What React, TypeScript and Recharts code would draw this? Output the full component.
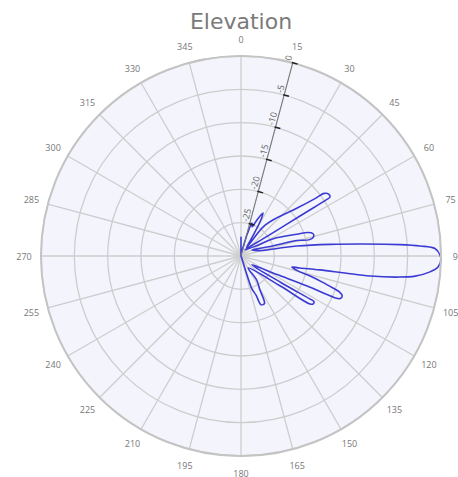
import { RadarChart, Radar, PolarGrid, PolarAngleAxis, PolarRadiusAxis } from 'recharts';

// compass bearings for the angle axis (clockwise from top)
const angleTicks = [0, 15, 30, 45, 60, 75, 90, 105, 120, 135, 150, 165, 180, 195, 210, 225, 240, 255, 270, 285, 300, 315, 330, 345];
// gain rings, dB
const gainTicks = [-30, -25, -20, -15, -10, -5, 0];

// elevation pattern, in drawing order: bearing (deg), gain (dB)
const traceAngles = [
  0, 5, 12, 16, 18.4, 21, 24, 27.1, 29, 31, 34,
  37.3, 43.3, 49.4, 52.3, 53.0, 54.8, 56.5, 56.6, 56.1, 55.1, 52.7, 33.7,
  57.1, 61.8, 68.7, 70.7, 72.6, 75, 76.6, 74.5, 73.4, 71.9, 61.4,
  76, 78.4, 79.9, 82.6, 84.4, 85.9, 86.8, 87.8, 89.7, 91.1, 93.2, 94.8, 96.6, 97.7, 98.8, 99.3, 100, 101.5, 102.2,
  104.7, 106.2, 107.8, 109.2, 110.0, 111.4, 113.2, 114.0, 114.4, 117.2, 129,
  123.6, 121.9, 121.9, 123.5, 124.8, 127.3, 149.3,
  146.8, 150.8, 152.4, 153.7, 157.6, 159, 161.7, 162.5, 161.6,
  175, 180, 270, 355,
];
const traceGain = [
  -27.2, -29.5, -29, -26.5, -24.8, -25.3, -24, -22.75, -24, -27, -28.5,
  -24.5, -22.1, -19, -15.8, -14.4, -13.9, -14.0, -14.7, -18.3, -21.9, -25.4, -28.9,
  -27, -24.5, -21, -19.35, -18.7, -18.7, -19.4, -21.3, -23.4, -25.4, -28.1,
  -26.6, -24, -21.5, -16.5, -11.6, -6.1, -3.1, -0.88, -0.15, 0, -0.4, -1.55, -3.7, -6.4, -10.4, -14.2, -18, -21, -22.2,
  -21.2, -19.2, -17.2, -15.4, -14.3, -13.7, -13.8, -14.7, -19.1, -23.9, -27.9,
  -22.9, -17.6, -17.1, -17.0, -17.4, -22.5, -27.9,
  -25.7, -24.2, -22.6, -22.05, -22.1, -23.7, -24.9, -27, -29.1,
  -30, -30, -30, -30,
];

const data = traceAngles.map((angle, i) => ({ angle, gain: traceGain[i] }));

const W = 458;
const H = 477;
const CX = 241;
const CY = 256;
const R = 200;
const FONT = '"Open Sans", sans-serif';

type Pt = { x: number; y: number };

// closed centripetal Catmull-Rom through the radar points
function smoothClosedPath(pts: Pt[]) {
  const n = pts.length;
  if (!n) return '';
  let d = `M${pts[0].x},${pts[0].y}`;
  for (let i = 0; i < n; i++) {
    const p0 = pts[(i - 1 + n) % n];
    const p1 = pts[i];
    const p2 = pts[(i + 1) % n];
    const p3 = pts[(i + 2) % n];
    const l01 = Math.hypot(p1.x - p0.x, p1.y - p0.y);
    const l12 = Math.hypot(p2.x - p1.x, p2.y - p1.y);
    const l23 = Math.hypot(p3.x - p2.x, p3.y - p2.y);
    const a01 = Math.sqrt(l01);
    const a12 = Math.sqrt(l12);
    const a23 = Math.sqrt(l23);
    let c1x = p1.x;
    let c1y = p1.y;
    let c2x = p2.x;
    let c2y = p2.y;
    if (a01 > 1e-6 && a12 > 1e-6) {
      const a = 2 * l01 + 3 * a01 * a12 + l12;
      const m = 3 * a01 * (a01 + a12);
      c1x = (p1.x * a - p0.x * l12 + p2.x * l01) / m;
      c1y = (p1.y * a - p0.y * l12 + p2.y * l01) / m;
    }
    if (a23 > 1e-6 && a12 > 1e-6) {
      const b = 2 * l23 + 3 * a23 * a12 + l12;
      const m = 3 * a23 * (a23 + a12);
      c2x = (p2.x * b + p1.x * l23 - p3.x * l12) / m;
      c2y = (p2.y * b + p1.y * l23 - p3.y * l12) / m;
    }
    d += `C${c1x},${c1y},${c2x},${c2y},${p2.x},${p2.y}`;
  }
  return d + 'Z';
}

function TraceShape(props: any) {
  return (
    <path
      d={smoothClosedPath(props.points || [])}
      fill="none"
      stroke="#3b3bd4"
      strokeWidth={1.6}
      strokeLinejoin="round"
    />
  );
}

function AngleTick(props: any) {
  const { x, y, payload } = props;
  if (payload.value >= 360) return <g />;
  return (
    <text x={x} y={y} textAnchor="middle" dominantBaseline="central" fontSize={9} fill="#777" fontFamily={FONT}>
      {payload.value}
    </text>
  );
}

function GainTick(props: any) {
  const { x, y, payload } = props;
  if (payload.value <= -30) return <g />;
  return (
    <g transform={`translate(${x},${y}) rotate(-75)`}>
      <line x1={0} y1={-1} x2={0} y2={5} stroke="#222" strokeWidth={1.5} />
      <text x={1} y={-2} textAnchor="start" fontSize={9} fill="#666" fontFamily={FONT}>
        {payload.value}
      </text>
    </g>
  );
}

export default function App() {
  return (
    <div style={{ position: 'absolute', left: 0, top: 0, width: W, height: H, background: '#fff', overflow: 'hidden' }}>
      <div
        style={{
          position: 'absolute',
          left: CX - R,
          top: CY - R,
          width: 2 * R,
          height: 2 * R,
          borderRadius: '50%',
          background: '#f4f5fc',
        }}
      />
      <svg width={W} height={40} style={{ position: 'absolute', left: 0, top: 0 }}>
        <text x={CX} y={29} textAnchor="middle" fontSize={22} fill="#7a7a7a" fontFamily='"DejaVu Sans", sans-serif'>
          Elevation
        </text>
      </svg>
      <div style={{ position: 'absolute', left: 0, top: 0 }}>
        <RadarChart
          width={W}
          height={H}
          cx={CX}
          cy={CY}
          outerRadius={R}
          data={data}
          margin={{ top: 0, right: 0, bottom: 0, left: 0 }}
        >
          <PolarGrid gridType="circle" stroke="#cdcdcd" strokeWidth={1.3} />
          <PolarAngleAxis
            dataKey="angle"
            type="number"
            domain={[0, 360]}
            ticks={angleTicks as any}
            tickCount={25}
            axisLineType="circle"
            axisLine={{ stroke: '#c4c4c4', strokeWidth: 2 }}
            tickLine={false}
            tickSize={17}
            tick={<AngleTick />}
          />
          <PolarRadiusAxis
            angle={75}
            type="number"
            domain={[-30, 0]}
            ticks={gainTicks as any}
            tickCount={7}
            allowDataOverflow
            axisLine={{ stroke: '#777', strokeWidth: 1 }}
            tick={<GainTick />}
          />
          <Radar
            dataKey="gain"
            stroke="#3b3bd4"
            fill="none"
            dot={false}
            shape={<TraceShape />}
            isAnimationActive={false}
          />
        </RadarChart>
      </div>
    </div>
  );
}
